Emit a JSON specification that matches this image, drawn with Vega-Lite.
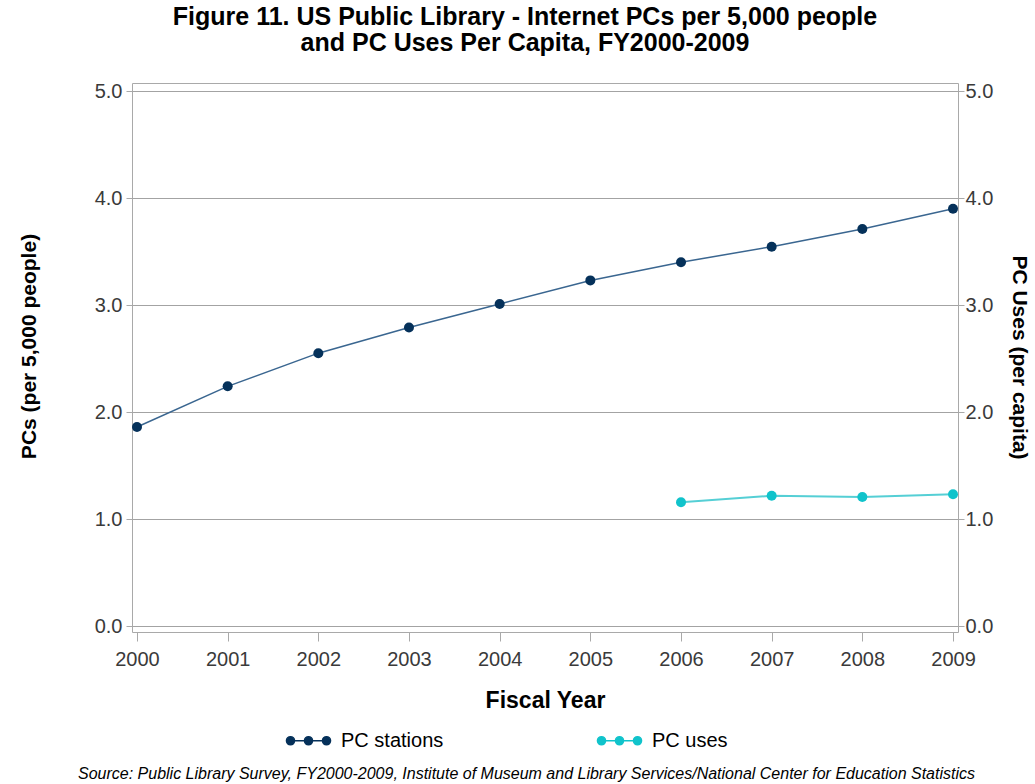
{
  "$schema": "https://vega.github.io/schema/vega-lite/v6.json",
  "width": 826,
  "height": 549,
  "autosize": "none",
  "padding": {"left": 132, "top": 83, "right": 77, "bottom": 152},
  "background": "white",
  "title": {
    "text": ["Figure 11. US Public Library - Internet PCs per 5,000 people", "and PC Uses Per Capita, FY2000-2009"],
    "font": "Liberation Sans Narrow, Arial Narrow, Liberation Sans",
    "fontSize": 25,
    "fontWeight": "bold",
    "color": "#000000",
    "anchor": "middle",
    "dx": -20,
    "offset": 25,
    "lineHeight": 26
  },
  "config": {
    "view": {"stroke": "#a9a9a9", "strokeWidth": 1},
    "axis": {
      "labelFont": "Liberation Sans",
      "labelFontSize": 20,
      "labelColor": "#3a3a3a",
      "tickColor": "#a9a9a9",
      "tickSize": 6,
      "domain": false,
      "gridColor": "#a3a3a3",
      "gridWidth": 1,
      "titleColor": "#000000"
    }
  },
  "data": {
    "values": [
      {"year": 2000, "series": "PC stations", "value": 1.86},
      {"year": 2001, "series": "PC stations", "value": 2.24},
      {"year": 2002, "series": "PC stations", "value": 2.55},
      {"year": 2003, "series": "PC stations", "value": 2.79},
      {"year": 2004, "series": "PC stations", "value": 3.01},
      {"year": 2005, "series": "PC stations", "value": 3.23},
      {"year": 2006, "series": "PC stations", "value": 3.40},
      {"year": 2007, "series": "PC stations", "value": 3.545},
      {"year": 2008, "series": "PC stations", "value": 3.71},
      {"year": 2009, "series": "PC stations", "value": 3.90},
      {"year": 2006, "series": "PC uses", "value": 1.156},
      {"year": 2007, "series": "PC uses", "value": 1.218},
      {"year": 2008, "series": "PC uses", "value": 1.206},
      {"year": 2009, "series": "PC uses", "value": 1.231}
    ]
  },
  "layer": [
    {
      "transform": [{"filter": "datum.series === 'PC stations'"}],
      "encoding": {
        "x": {
          "field": "year", "type": "quantitative",
          "scale": {"domain": [1999.945, 2009.055], "nice": false, "zero": false},
          "axis": {
            "orient": "bottom",
            "values": [2000, 2001, 2002, 2003, 2004, 2005, 2006, 2007, 2008, 2009],
            "format": "d",
            "grid": false,
            "tickSize": 9,
            "labelPadding": 8,
            "title": "Fiscal Year",
            "titleFont": "Liberation Sans Narrow, Arial Narrow, Liberation Sans",
            "titleFontSize": 23,
            "titleFontWeight": "bold",
            "titlePadding": 20
          }
        },
        "y": {
          "field": "value", "type": "quantitative",
          "scale": {"domain": [-0.056, 5.075], "nice": false, "zero": false},
          "axis": {
            "orient": "left",
            "values": [0, 1, 2, 3, 4, 5],
            "format": ".1f",
            "grid": true,
            "labelPadding": 4,
            "title": "PCs (per 5,000 people)",
            "titleFont": "Liberation Sans",
            "titleFontSize": 21,
            "titleFontWeight": "bold",
            "titleAngle": -90,
            "titleX": -103,
            "titleY": 263,
            "titleBaseline": "middle",
            "titleAlign": "center"
          }
        }
      },
      "layer": [
        {"mark": {"type": "line", "color": "#3a6690", "strokeWidth": 1.5}},
        {
          "mark": {"type": "point", "filled": true, "opacity": 1, "size": 100, "shape": "circle"},
          "encoding": {
            "color": {
              "field": "series", "type": "nominal",
              "scale": {"domain": ["PC stations", "PC uses"], "range": ["#05315a", "#10c3cb"]},
              "legend": {
                "orient": "none",
                "legendX": 153,
                "legendY": 634,
                "direction": "horizontal",
                "columns": 2,
                "columnPadding": 150,
                "title": null,
                "symbolType": "M-1,0L1,0M-0.98,0A0.18,0.18 0 1,0 -0.62,0A0.18,0.18 0 1,0 -0.98,0ZM-0.18,0A0.18,0.18 0 1,0 0.18,0A0.18,0.18 0 1,0 -0.18,0ZM0.62,0A0.18,0.18 0 1,0 0.98,0A0.18,0.18 0 1,0 0.62,0Z",
                "symbolSize": 2025,
                "symbolStrokeWidth": 1.5,
                "symbolOpacity": 1,
                "labelFont": "Liberation Sans",
                "labelFontSize": 20,
                "labelColor": "#000000",
                "labelOffset": 9,
                "encode": {"symbols": {"update": {"stroke": {"scale": "color", "field": "value"}}}}
              }
            }
          }
        }
      ]
    },
    {
      "transform": [{"filter": "datum.series === 'PC uses'"}],
      "encoding": {
        "x": {
          "field": "year", "type": "quantitative",
          "scale": {"domain": [1999.945, 2009.055], "nice": false, "zero": false},
          "axis": {
            "orient": "bottom",
            "labels": false,
            "ticks": false,
            "grid": false,
            "domain": false,
            "title": "Source: Public Library Survey, FY2000-2009, Institute of Museum and Library Services/National Center for Education Statistics",
            "titleFont": "Liberation Sans Narrow, Arial Narrow, Liberation Sans",
            "titleFontSize": 16,
            "titleFontWeight": "normal",
            "titleFontStyle": "italic",
            "titleX": 394,
            "titleY": 141,
            "titleBaseline": "middle",
            "titleAlign": "center"
          }
        },
        "y": {
          "field": "value", "type": "quantitative",
          "scale": {"domain": [-0.056, 5.075], "nice": false, "zero": false},
          "axis": {
            "orient": "right",
            "values": [0, 1, 2, 3, 4, 5],
            "format": ".1f",
            "grid": false,
            "labelPadding": 1,
            "title": "PC Uses (per capita)",
            "titleFont": "Liberation Sans",
            "titleFontSize": 21,
            "titleFontWeight": "bold",
            "titleAngle": 90,
            "titleX": 60,
            "titleY": 274,
            "titleBaseline": "middle",
            "titleAlign": "center"
          }
        }
      },
      "layer": [
        {"mark": {"type": "line", "color": "#55cfd5", "strokeWidth": 2}},
        {
          "mark": {"type": "point", "filled": true, "opacity": 1, "size": 100, "shape": "circle"},
          "encoding": {"color": {"field": "series", "type": "nominal"}}
        }
      ]
    }
  ],
  "resolve": {"scale": {"x": "independent", "y": "independent"}}
}
